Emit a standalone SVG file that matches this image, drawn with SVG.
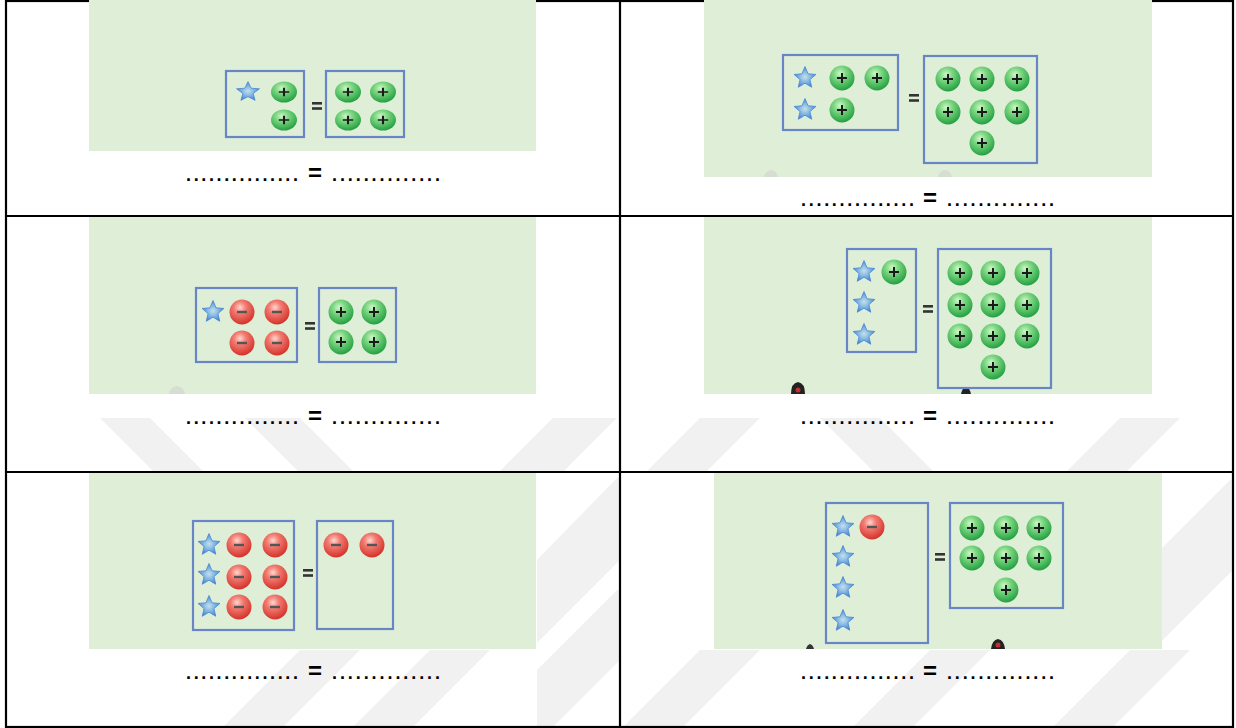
<svg xmlns="http://www.w3.org/2000/svg" xmlns:xlink="http://www.w3.org/1999/xlink" width="1236" height="728" viewBox="0 0 1236 728">
<defs>
<style>
.panel{fill:#dfefd7}
.box{fill:none;stroke:#6886c6;stroke-width:2.2}
.grid{stroke:#000;stroke-width:2.2;fill:none}
.dots{font-family:"Liberation Sans",Arial,sans-serif;font-weight:bold;font-size:18px;fill:#000}
.eqt{font-family:"Liberation Sans",Arial,sans-serif;font-weight:bold;font-size:24px;fill:#000}
.wm{fill:#f1f1f1}
.eqbar{fill:#333}
</style>
<radialGradient id="gG" cx="0.42" cy="0.32" r="0.7">
<stop offset="0" stop-color="#d2f5cc"/>
<stop offset="0.35" stop-color="#7fd884"/>
<stop offset="1" stop-color="#1f9d3e"/>
</radialGradient>
<radialGradient id="gR" cx="0.42" cy="0.32" r="0.7">
<stop offset="0" stop-color="#ffd6cf"/>
<stop offset="0.35" stop-color="#f27b71"/>
<stop offset="1" stop-color="#d22f27"/>
</radialGradient>
<radialGradient id="gS" cx="0.5" cy="0.5" r="0.55">
<stop offset="0" stop-color="#c3e0ee"/>
<stop offset="0.45" stop-color="#86b8e2"/>
<stop offset="1" stop-color="#3b7dd0"/>
</radialGradient>
<g id="plus">
<circle r="12.5" fill="url(#gG)"/>
<path d="M-5,0H5M0,-5V5" stroke="#1a1a1a" stroke-width="2"/>
</g>
<g id="minus">
<circle r="12.5" fill="url(#gR)"/>
<path d="M-5,0H5" stroke="#555" stroke-width="2.4"/>
</g>
<path id="star" d="M0,-11.5L3.06,-4.21L10.94,-3.55L4.95,1.61L6.76,9.3L0,5.2L-6.76,9.3L-4.95,1.61L-10.94,-3.55L-3.06,-4.21Z" fill="url(#gS)" stroke="#4a86d4" stroke-width="0.8"/>
<g id="eq">
<rect x="-5" y="-4" width="10" height="2.6" class="eqbar"/>
<rect x="-5" y="1.2" width="10" height="2.6" class="eqbar"/>
</g>
</defs>

<rect width="1236" height="728" fill="#fff"/>

<g id="watermark">
<polygon class="wm" points="100,418 150,418 204,472 154,472"/>
<polygon class="wm" points="245,418 300,418 354,472 299,472"/>
<polygon class="wm" points="553,418 617,418 563,472 499,472"/>
<polygon class="wm" points="700,418 760,418 706,472 646,472"/>
<polygon class="wm" points="820,418 880,418 934,472 874,472"/>
<polygon class="wm" points="1120,418 1180,418 1126,472 1066,472"/>
<polygon class="wm" points="617,478 620,478 620,560 537,643 537,560"/>
<polygon class="wm" points="617,590 620,590 620,660 552,728 537,728 537,670"/>
<polygon class="wm" points="300,650 360,650 282,728 222,728"/>
<polygon class="wm" points="430,650 490,650 412,728 352,728"/>
<polygon class="wm" points="700,650 760,650 682,728 622,728"/>
<polygon class="wm" points="930,650 990,650 912,728 852,728"/>
<polygon class="wm" points="1130,650 1190,650 1112,728 1052,728"/>
<polygon class="wm" points="1230,480 1233,480 1233,570 1162,641 1162,548"/>
</g>

<g id="table">
<rect class="grid" x="6" y="1" width="1227" height="726"/>
<line class="grid" x1="620" y1="0" x2="620" y2="728"/>
<line class="grid" x1="6" y1="216" x2="1233" y2="216"/>
<line class="grid" x1="6" y1="472" x2="1233" y2="472"/>
</g>

<g id="cell1">
<rect class="panel" x="89" y="0" width="447" height="151"/>
<rect class="box" x="226" y="71" width="78" height="66"/>
<rect class="box" x="326" y="71" width="78" height="66"/>
<use xlink:href="#star" transform="translate(248,92) scale(1.05,0.9)"/>
<use xlink:href="#plus" transform="translate(284,92) scale(1.04,0.84)"/>
<use xlink:href="#plus" transform="translate(284,120) scale(1.04,0.84)"/>
<use xlink:href="#eq" transform="translate(317,106)"/>
<use xlink:href="#plus" transform="translate(348,92) scale(1.04,0.84)"/>
<use xlink:href="#plus" transform="translate(383,92) scale(1.04,0.84)"/>
<use xlink:href="#plus" transform="translate(348,120) scale(1.04,0.84)"/>
<use xlink:href="#plus" transform="translate(383,120) scale(1.04,0.84)"/>
<text class="dots" x="186" y="181" textLength="112" lengthAdjust="spacing">...............</text>
<text class="eqt" x="315" y="181" text-anchor="middle">=</text>
<text class="dots" x="332" y="181" textLength="108" lengthAdjust="spacing">..............</text>
</g>

<g id="cell2">
<rect class="panel" x="704" y="0" width="448" height="177"/>
<path d="M764,177 Q765,171 771,170 Q777,171 778,177 Z" fill="#d6ddd2"/>
<path d="M938,177 Q939,171 945,170 Q951,171 952,177 Z" fill="#d6ddd2"/>
<rect class="box" x="783" y="55" width="115" height="75"/>
<rect class="box" x="924" y="56" width="113" height="107"/>
<use xlink:href="#star" x="805" y="78"/>
<use xlink:href="#star" x="805" y="110"/>
<use xlink:href="#plus" x="842" y="78"/>
<use xlink:href="#plus" x="877" y="78"/>
<use xlink:href="#plus" x="842" y="110"/>
<use xlink:href="#eq" x="914" y="98"/>
<use xlink:href="#plus" x="948" y="79"/>
<use xlink:href="#plus" x="982" y="79"/>
<use xlink:href="#plus" x="1017" y="79"/>
<use xlink:href="#plus" x="948" y="112"/>
<use xlink:href="#plus" x="982" y="112"/>
<use xlink:href="#plus" x="1017" y="112"/>
<use xlink:href="#plus" x="982" y="143"/>
<text class="dots" x="801" y="206" textLength="113" lengthAdjust="spacing">...............</text>
<text class="eqt" x="930" y="206" text-anchor="middle">=</text>
<text class="dots" x="947" y="206" textLength="107" lengthAdjust="spacing">..............</text>
</g>

<g id="cell3">
<rect class="panel" x="89" y="217" width="447" height="177"/>
<path d="M169,394 Q170,387 177,386 Q184,387 185,394 Z" fill="#d6ddd2"/>
<rect class="box" x="196" y="288" width="101" height="74"/>
<rect class="box" x="319" y="288" width="77" height="74"/>
<use xlink:href="#star" x="213" y="312"/>
<use xlink:href="#minus" x="242" y="312"/>
<use xlink:href="#minus" x="277" y="312"/>
<use xlink:href="#minus" x="242" y="343"/>
<use xlink:href="#minus" x="277" y="343"/>
<use xlink:href="#eq" x="310" y="326"/>
<use xlink:href="#plus" x="341" y="312"/>
<use xlink:href="#plus" x="374" y="312"/>
<use xlink:href="#plus" x="341" y="342"/>
<use xlink:href="#plus" x="374" y="342"/>
<text class="dots" x="186" y="424" textLength="112" lengthAdjust="spacing">...............</text>
<text class="eqt" x="315" y="424" text-anchor="middle">=</text>
<text class="dots" x="332" y="424" textLength="108" lengthAdjust="spacing">..............</text>
</g>

<g id="cell4">
<rect class="panel" x="704" y="217" width="448" height="177"/>
<path d="M791,394 Q791,383 798,382 Q805,383 805,394 Z" fill="#222"/>
<circle cx="798" cy="390" r="2.5" fill="#c03030"/>
<path d="M961,394 Q962,388 966,387 Q970,388 971,394 Z" fill="#222"/>
<rect class="box" x="847" y="249" width="69" height="103"/>
<rect class="box" x="938" y="249" width="113" height="139"/>
<use xlink:href="#star" x="864" y="272"/>
<use xlink:href="#star" x="864" y="303"/>
<use xlink:href="#star" x="864" y="335"/>
<use xlink:href="#plus" x="894" y="272"/>
<use xlink:href="#eq" x="928" y="309"/>
<use xlink:href="#plus" x="960" y="273"/>
<use xlink:href="#plus" x="993" y="273"/>
<use xlink:href="#plus" x="1027" y="273"/>
<use xlink:href="#plus" x="960" y="305"/>
<use xlink:href="#plus" x="993" y="305"/>
<use xlink:href="#plus" x="1027" y="305"/>
<use xlink:href="#plus" x="960" y="336"/>
<use xlink:href="#plus" x="993" y="336"/>
<use xlink:href="#plus" x="1027" y="336"/>
<use xlink:href="#plus" x="993" y="367"/>
<text class="dots" x="801" y="424" textLength="113" lengthAdjust="spacing">...............</text>
<text class="eqt" x="930" y="424" text-anchor="middle">=</text>
<text class="dots" x="947" y="424" textLength="107" lengthAdjust="spacing">..............</text>
</g>

<g id="cell5">
<rect class="panel" x="89" y="473" width="447" height="176"/>
<rect class="box" x="193" y="521" width="101" height="109"/>
<rect class="box" x="317" y="521" width="76" height="108"/>
<use xlink:href="#star" x="209" y="545"/>
<use xlink:href="#star" x="209" y="575"/>
<use xlink:href="#star" x="209" y="607"/>
<use xlink:href="#minus" x="239" y="545"/>
<use xlink:href="#minus" x="275" y="545"/>
<use xlink:href="#minus" x="239" y="577"/>
<use xlink:href="#minus" x="275" y="577"/>
<use xlink:href="#minus" x="239" y="607"/>
<use xlink:href="#minus" x="275" y="607"/>
<use xlink:href="#eq" x="308" y="573"/>
<use xlink:href="#minus" x="336" y="545"/>
<use xlink:href="#minus" x="372" y="545"/>
<text class="dots" x="186" y="679" textLength="112" lengthAdjust="spacing">...............</text>
<text class="eqt" x="315" y="679" text-anchor="middle">=</text>
<text class="dots" x="332" y="679" textLength="108" lengthAdjust="spacing">..............</text>
</g>

<g id="cell6">
<rect class="panel" x="714" y="473" width="448" height="176"/>
<path d="M991,649 Q992,640 998,639 Q1004,640 1005,649 Z" fill="#222"/>
<circle cx="998" cy="645" r="2.5" fill="#c03030"/>
<path d="M806,649 Q807,645 810,644 Q813,645 814,649 Z" fill="#333"/>
<rect class="box" x="826" y="503" width="102" height="140"/>
<rect class="box" x="950" y="503" width="113" height="105"/>
<use xlink:href="#star" x="843" y="527"/>
<use xlink:href="#star" x="843" y="557"/>
<use xlink:href="#star" x="843" y="588"/>
<use xlink:href="#star" x="843" y="621"/>
<use xlink:href="#minus" x="872" y="527"/>
<use xlink:href="#eq" x="940" y="557"/>
<use xlink:href="#plus" x="972" y="528"/>
<use xlink:href="#plus" x="1006" y="528"/>
<use xlink:href="#plus" x="1039" y="528"/>
<use xlink:href="#plus" x="972" y="558"/>
<use xlink:href="#plus" x="1006" y="558"/>
<use xlink:href="#plus" x="1039" y="558"/>
<use xlink:href="#plus" x="1006" y="590"/>
<text class="dots" x="801" y="679" textLength="113" lengthAdjust="spacing">...............</text>
<text class="eqt" x="930" y="679" text-anchor="middle">=</text>
<text class="dots" x="947" y="679" textLength="107" lengthAdjust="spacing">..............</text>
</g>
</svg>
